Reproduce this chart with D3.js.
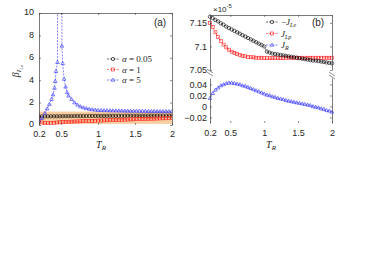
<!DOCTYPE html>
<html lang="en">
<head>
<meta charset="utf-8">
<title>beta and heat currents vs T_R</title>
<script src="https://cdn.jsdelivr.net/npm/d3@7"></script>
<style>
  body { margin: 0; background: #fff; }
  svg { display: block; }
  .tick text { font-family: "Liberation Sans", Arial, sans-serif; font-size: 9px; fill: #262626; }
  .tick line { stroke: #404040; stroke-width: 0.6; }
  .domain { stroke: #404040; stroke-width: 0.7; }
  .math { font-family: "Liberation Serif", "DejaVu Serif", serif; }
</style>
</head>
<body>
<script>
// temperature grid used by most series
var T = [0.20,0.24,0.28,0.32,0.36,0.40,0.44,0.48,0.52,0.56,0.60,0.64,0.68,0.72,0.76,0.80,
         0.84,0.88,0.92,0.96,1.00,1.04,1.08,1.12,1.16,1.20,1.24,1.28,1.32,1.36,1.40,1.44,
         1.48,1.52,1.56,1.60,1.64,1.68,1.72,1.76,1.80,1.84,1.88,1.92,1.96,2.00];

// panel (a): beta
var betaA005 = [0.76,0.77,0.77,0.77,0.78,0.78,0.78,0.78,0.79,0.79,0.79,0.79,0.80,0.80,0.80,0.80,
                0.80,0.81,0.81,0.81,0.81,0.81,0.81,0.82,0.82,0.82,0.82,0.82,0.82,0.82,0.83,0.83,
                0.83,0.83,0.83,0.83,0.83,0.84,0.84,0.84,0.84,0.84,0.84,0.84,0.84,0.84];
var betaA1 = [0.40,0.22,0.16,0.16,0.18,0.20,0.22,0.24,0.26,0.28,0.29,0.30,0.31,0.32,0.33,0.34,
              0.35,0.36,0.37,0.38,0.39,0.40,0.41,0.42,0.43,0.44,0.45,0.46,0.47,0.48,0.49,0.50,
              0.51,0.52,0.53,0.54,0.55,0.56,0.56,0.57,0.58,0.59,0.60,0.60,0.61,0.62];
var TB = [0.20,0.24,0.28,0.31,0.34,0.37,0.39,0.41,0.42,0.43,0.45,0.485,0.51,0.52,0.54,0.56,0.58,
          0.60,0.64,0.68,0.72,0.76,0.80,0.84,0.88,0.92,0.96,1.00,1.04,1.08,1.12,1.16,1.20,1.24,
          1.28,1.32,1.36,1.40,1.44,1.48,1.52,1.56,1.60,1.64,1.68,1.72,1.76,1.80,1.84,1.88,1.92,1.96,2.00];
var betaA5 = [0.35,0.6,1.05,1.45,1.85,2.3,2.7,3.3,3.9,4.8,5.6,150,7.05,5.5,4.1,3.4,2.9,
              2.6,2.3,2.0,1.8,1.65,1.55,1.48,1.42,1.38,1.35,1.32,1.31,1.30,1.30,1.29,1.28,1.28,
              1.27,1.27,1.26,1.26,1.25,1.25,1.25,1.24,1.24,1.24,1.23,1.23,1.23,1.22,1.22,1.22,1.22,1.21,1.21];
var bandA = [0.1, 1.2];

// panel (b): currents (upper in units of 1e-5)
var negJLe = [7.163,7.160,7.156,7.153,7.149,7.146,7.142,7.139,7.136,7.133,7.130,7.127,7.124,7.121,7.118,7.115,
              7.112,7.109,7.106,7.103,7.100,7.089,7.087,7.085,7.084,7.083,7.082,7.081,7.080,7.079,7.078,7.077,
              7.076,7.075,7.074,7.073,7.072,7.071,7.070,7.070,7.069,7.068,7.067,7.066,7.065,7.064];
var JLp = [7.150,7.141,7.130,7.120,7.112,7.104,7.098,7.093,7.089,7.086,7.084,7.082,7.080,7.079,7.078,7.077,
           7.077,7.076,7.076,7.076,7.075,7.075,7.075,7.075,7.075,7.075,7.075,7.075,7.076,7.076,7.076,7.076,
           7.076,7.076,7.076,7.076,7.076,7.076,7.076,7.076,7.076,7.076,7.076,7.076,7.076,7.076];
var JR = [0.015,0.024,0.030,0.034,0.038,0.040,0.042,0.043,0.043,0.042,0.041,0.040,0.038,0.037,0.035,0.033,
          0.031,0.029,0.027,0.025,0.023,0.021,0.020,0.018,0.017,0.015,0.014,0.013,0.011,0.010,0.009,0.008,
          0.007,0.006,0.005,0.004,0.003,0.002,0.000,-0.001,-0.002,-0.004,-0.005,-0.007,-0.008,-0.010];

var xTicks = [0.2, 0.5, 1, 1.5, 2];
var yTicksA = [0, 2, 4, 6, 8, 10];
var yTicksBUp = [7.05, 7.1, 7.15];
var yTicksBLo = [-0.02, 0, 0.02, 0.04];

var w = 385, h = 269;
var black = "#000000", red = "#ff2020", blue = "#3030ff";

var svg = d3.select("body").append("svg").attr("width", w).attr("height", h);
svg.append("rect").attr("width", w).attr("height", h).attr("fill", "#fff");

function marker(g, shape, x, y, color) {
  if (shape === "o") {
    g.append("circle").attr("cx", x).attr("cy", y).attr("r", 1.7)
      .attr("fill", "none").attr("stroke", color).attr("stroke-width", 0.6);
  } else if (shape === "s") {
    g.append("rect").attr("x", x - 1.5).attr("y", y - 1.5).attr("width", 3).attr("height", 3)
      .attr("fill", "none").attr("stroke", color).attr("stroke-width", 0.6);
  } else {
    g.append("path").attr("d", "M" + x + "," + (y - 1.9) + "L" + (x + 1.8) + "," + (y + 1.2) + "L" + (x - 1.8) + "," + (y + 1.2) + "Z")
      .attr("fill", "none").attr("stroke", color).attr("stroke-width", 0.6);
  }
}

function series(g, xs, ys, x, y, shape, color) {
  var pts = xs.map(function(t, i) { return [t, ys[i]]; });
  var line = d3.line().x(function(d) { return x(d[0]); }).y(function(d) { return y(d[1]); });
  g.append("path").datum(pts).attr("d", line).attr("fill", "none")
    .attr("stroke", color).attr("stroke-width", 0.6).attr("stroke-dasharray", "2,1.2");
  pts.forEach(function(d) { marker(g, shape, x(d[0]), y(d[1]), color); });
}

function legend(g, x0, y0, dy, items) {
  items.forEach(function(it, i) {
    var yy = y0 + i * dy;
    g.append("line").attr("x1", x0).attr("x2", x0 + 12).attr("y1", yy).attr("y2", yy)
      .attr("stroke", it.color).attr("stroke-width", 0.6).attr("stroke-dasharray", "2,1.2");
    marker(g, it.shape, x0 + 6, yy, it.color);
    var t = g.append("text").attr("class", "math").attr("x", x0 + 15).attr("y", yy + 3)
      .attr("font-size", 9).attr("fill", "#262626");
    it.label(t);
  });
}

function xLabel(x, y) {
  var t = svg.append("text").attr("class", "math").attr("x", x).attr("y", y)
    .attr("text-anchor", "middle").attr("font-size", 10).attr("fill", "#262626");
  t.append("tspan").attr("font-style", "italic").text("T");
  t.append("tspan").attr("font-style", "italic").attr("font-size", 7).attr("dy", 2).text("R");
}

// ---------- panel (a) ----------
var xa = d3.scaleLinear().domain([0.2, 2]).range([39, 172]);
var ya = d3.scaleLinear().domain([0, 10]).range([125, 13]);

svg.append("clipPath").attr("id", "clipA").append("rect")
  .attr("x", 39).attr("y", 13).attr("width", 133).attr("height", 112);

var ga = svg.append("g").attr("clip-path", "url(#clipA)");
ga.append("rect").attr("x", xa(0.2)).attr("width", xa(2) - xa(0.2))
  .attr("y", ya(bandA[1])).attr("height", ya(bandA[0]) - ya(bandA[1]))
  .attr("fill", "#f2b978").attr("opacity", 0.7);
series(ga, T, betaA005, xa, ya, "o", black);
series(ga, T, betaA1, xa, ya, "s", red);
series(ga, TB, betaA5, xa, ya, "^", blue);

svg.append("g").attr("transform", "translate(0,125)")
  .call(d3.axisBottom(xa).tickValues(xTicks).tickFormat(d3.format("")).tickSizeInner(-2).tickSizeOuter(0).tickPadding(6))
  .call(function(g) { g.select(".domain").remove(); });
svg.append("g").attr("transform", "translate(39,0)")
  .call(d3.axisLeft(ya).tickValues(yTicksA).tickSizeInner(-2).tickSizeOuter(0).tickPadding(5))
  .call(function(g) { g.selectAll(".tick text").attr("dy", "0.22em"); });
svg.append("g").attr("transform", "translate(0,13)")
  .call(d3.axisTop(xa).tickValues(xTicks).tickSizeInner(-2).tickSizeOuter(0).tickFormat(""));
svg.append("g").attr("transform", "translate(172,0)")
  .call(d3.axisRight(ya).tickValues(yTicksA).tickSizeInner(-2).tickSizeOuter(0).tickFormat(""));

svg.append("text").attr("x", 160).attr("y", 26).attr("text-anchor", "middle")
  .attr("font-family", "Liberation Sans, Arial, sans-serif").attr("font-size", 10).attr("fill", "#262626").text("(a)");

legend(svg, 107, 59, 10.5, [
  { color: black, shape: "o", label: function(t) { t.append("tspan").attr("font-style", "italic").text("α"); t.append("tspan").text(" = 0.05"); } },
  { color: red, shape: "s", label: function(t) { t.append("tspan").attr("font-style", "italic").text("α"); t.append("tspan").text(" = 1"); } },
  { color: blue, shape: "^", label: function(t) { t.append("tspan").attr("font-style", "italic").text("α"); t.append("tspan").text(" = 5"); } }
]);

xLabel(101, 148);
var yl = svg.append("text").attr("class", "math").attr("transform", "translate(19,71) rotate(-90)")
  .attr("text-anchor", "middle").attr("font-size", 10).attr("fill", "#262626");
yl.append("tspan").attr("font-style", "italic").text("β");
yl.append("tspan").attr("font-style", "italic").attr("font-size", 7).attr("dy", 2).text("I");
yl.append("tspan").attr("font-style", "italic").attr("font-size", 5).attr("dy", 1.5).text("Le");

// ---------- panel (b) ----------
var xb = d3.scaleLinear().domain([0.2, 2]).range([210, 332]);
var yUp = d3.scaleLinear().domain([7.05, 7.1667]).range([70, 15]);
var yLo = d3.scaleLinear().domain([-0.03, 0.0518]).range([123, 78]);

svg.append("clipPath").attr("id", "clipBU").append("rect")
  .attr("x", 205).attr("y", 12).attr("width", 132).attr("height", 60);
svg.append("clipPath").attr("id", "clipBL").append("rect")
  .attr("x", 205).attr("y", 76).attr("width", 132).attr("height", 49);

var gu = svg.append("g").attr("clip-path", "url(#clipBU)");
series(gu, T, JLp, xb, yUp, "s", red);
series(gu, T, negJLe, xb, yUp, "o", black);
var gl = svg.append("g").attr("clip-path", "url(#clipBL)");
series(gl, T, JR, xb, yLo, "^", blue);

svg.append("g").attr("transform", "translate(0,123)")
  .call(d3.axisBottom(xb).tickValues(xTicks).tickFormat(d3.format("")).tickSizeInner(-2).tickSizeOuter(0).tickPadding(7))
  .call(function(g) { g.select(".domain").remove(); });
svg.append("g").attr("transform", "translate(0,15)")
  .call(d3.axisTop(xb).tickValues(xTicks).tickSizeInner(-2).tickSizeOuter(0).tickFormat(""));
svg.append("g").attr("transform", "translate(210,0)")
  .call(d3.axisLeft(yUp).tickValues(yTicksBUp).tickFormat(d3.format("")).tickSizeInner(-2).tickSizeOuter(0).tickPadding(3));
svg.append("g").attr("transform", "translate(210,0)")
  .call(d3.axisLeft(yLo).tickValues(yTicksBLo).tickFormat(d3.format("")).tickSizeInner(-2).tickSizeOuter(0).tickPadding(3));
svg.append("g").attr("transform", "translate(332,0)")
  .call(d3.axisRight(yUp).tickValues(yTicksBUp).tickSizeInner(-2).tickSizeOuter(0).tickFormat(""));
svg.append("g").attr("transform", "translate(332,0)")
  .call(d3.axisRight(yLo).tickValues(yTicksBLo).tickSizeInner(-2).tickSizeOuter(0).tickFormat(""));

// break marks
[[210, 71], [332, 74]].forEach(function(p) {
  [0, 3].forEach(function(o) {
    svg.append("line").attr("x1", p[0] - 3).attr("y1", p[1] + o - 2).attr("x2", p[0] + 3).attr("y2", p[1] + o + 2)
      .attr("stroke", "#404040").attr("stroke-width", 0.6);
  });
});

var mult = svg.append("text").attr("x", 213).attr("y", 12)
  .attr("font-family", "Liberation Sans, Arial, sans-serif").attr("font-size", 8).attr("fill", "#262626");
mult.append("tspan").text("×10");
mult.append("tspan").attr("font-size", 6).attr("dy", -4).text("-5");

svg.append("text").attr("x", 318).attr("y", 26).attr("text-anchor", "middle")
  .attr("font-family", "Liberation Sans, Arial, sans-serif").attr("font-size", 10).attr("fill", "#262626").text("(b)");

legend(svg, 266, 22, 11.5, [
  { color: black, shape: "o", label: function(t) { t.append("tspan").text("−"); t.append("tspan").attr("font-style", "italic").text("J"); t.append("tspan").attr("font-style", "italic").attr("font-size", 6).attr("dy", 2).text("Le"); } },
  { color: red, shape: "s", label: function(t) { t.append("tspan").attr("font-style", "italic").text("J"); t.append("tspan").attr("font-style", "italic").attr("font-size", 6).attr("dy", 2).text("Lp"); } },
  { color: blue, shape: "^", label: function(t) { t.append("tspan").attr("font-style", "italic").text("J"); t.append("tspan").attr("font-style", "italic").attr("font-size", 6).attr("dy", 2).text("R"); } }
]);

xLabel(271, 148);
</script>
</body>
</html>
